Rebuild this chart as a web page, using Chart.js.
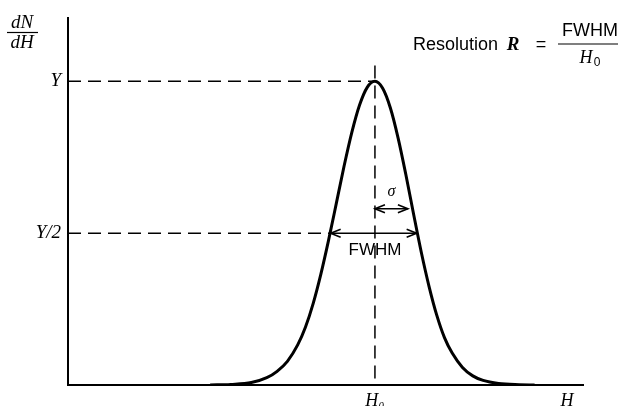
<!DOCTYPE html>
<html>
<head>
<meta charset="utf-8">
<script src="https://cdn.jsdelivr.net/npm/chart.js@4"></script>
<style>
html,body{margin:0;padding:0;background:#fff;}
#wrap{width:618px;height:406px;}
</style>
</head>
<body>
<div id="wrap"><canvas id="c" width="618" height="406"></canvas></div>
<script>
// ---- data (arbitrary units) ----
const H = [2.76, 3.16, 3.56, 3.86, 4.06, 4.26, 4.46, 4.61, 4.76, 4.91, 5.06, 5.21, 5.36, 5.51, 5.66, 5.81, 5.96,
           6.11, 6.26, 6.41, 6.56, 6.71, 6.86, 7.01, 7.16, 7.31, 7.46, 7.66, 7.86, 8.06, 8.36, 8.76, 9.06];
const dNdH = [0, 0.002, 0.008, 0.024, 0.045, 0.078, 0.132, 0.19, 0.268, 0.365, 0.477, 0.598, 0.72, 0.831, 0.921, 0.98, 1,
              0.977, 0.912, 0.813, 0.693, 0.563, 0.437, 0.325, 0.23, 0.156, 0.105, 0.058, 0.03, 0.015, 0.005, 0.001, 0];
const H0 = 5.96;
const Ypeak = 1;
const Yhalf = 0.5;
const fwhmLeft = 5.1;
const fwhmRight = 6.77;
const sigmaEnd = 6.60;
const sigmaLevel = 0.58;
const markerTop = 1.052;
const xRange = [0, 10];
const yRange = [0, 1.207];
const yTickValues = [1, 0.5];
const yTickLabels = ['Y', 'Y/2'];
const xTickValues = [H0, 9.69];
const xTickLabels = ['H\u2080', 'H'];

const serifItalic = (s) => ({family: '"Liberation Serif", "DejaVu Serif", serif', style: 'italic', size: s});

const dashed = {borderColor: '#000', borderWidth: 1.5, borderDash: [13, 7], pointRadius: 0, fill: false, tension: 0};
const solidThin = {borderColor: '#000', borderWidth: 1.5, pointRadius: 0, fill: false, tension: 0};

function arrowHead(ctx, x, y, dir) {
  ctx.beginPath();
  ctx.moveTo(x - dir * 10, y - 4);
  ctx.lineTo(x, y);
  ctx.lineTo(x - dir * 10, y + 4);
  ctx.stroke();
}

const annotations = {
  id: 'annotations',
  afterDatasetsDraw(chart) {
    const ctx = chart.ctx;
    const xs = chart.scales.x, ys = chart.scales.y;
    ctx.save();
    ctx.strokeStyle = '#000';
    ctx.fillStyle = '#000';
    ctx.lineWidth = 1.6;
    // FWHM arrow heads
    const yh = ys.getPixelForValue(Yhalf);
    arrowHead(ctx, xs.getPixelForValue(fwhmLeft), yh, -1);
    arrowHead(ctx, xs.getPixelForValue(fwhmRight), yh, 1);
    // sigma arrow heads
    const ysg = ys.getPixelForValue(sigmaLevel);
    arrowHead(ctx, xs.getPixelForValue(H0), ysg, -1);
    arrowHead(ctx, xs.getPixelForValue(sigmaEnd), ysg, 1);
    // labels
    ctx.textAlign = 'center';
    ctx.textBaseline = 'middle';
    ctx.font = 'italic 16px "Liberation Serif", serif';
    ctx.fillText('\u03c3', (xs.getPixelForValue(H0) + xs.getPixelForValue(sigmaEnd)) / 2, ysg - 17);
    ctx.font = '17px "Liberation Sans", Arial, sans-serif';
    ctx.fillText('FWHM', xs.getPixelForValue(H0), yh + 17);

    // dN/dH axis title
    ctx.font = 'italic 19px "Liberation Serif", serif';
    ctx.textBaseline = 'alphabetic';
    ctx.fillText('dN', 22, 28);
    ctx.fillText('dH', 22, 48);
    ctx.lineWidth = 1.2;
    ctx.beginPath(); ctx.moveTo(7, 32.5); ctx.lineTo(38, 32.5); ctx.stroke();

    // Resolution formula
    ctx.textAlign = 'left';
    ctx.font = '18px "Liberation Sans", Arial, sans-serif';
    ctx.fillText('Resolution', 413, 50);
    ctx.font = 'italic bold 19px "Liberation Serif", serif';
    ctx.textAlign = 'center';
    ctx.fillText('R', 513, 50);
    ctx.font = '18px "Liberation Sans", Arial, sans-serif';
    ctx.fillText('=', 541, 50);
    ctx.fillText('FWHM', 590, 36);
    ctx.beginPath(); ctx.moveTo(558, 44); ctx.lineTo(618, 44); ctx.stroke();
    ctx.font = 'italic 18px "Liberation Serif", serif';
    ctx.fillText('H', 586, 63);
    ctx.font = '12px "Liberation Sans", Arial, sans-serif';
    ctx.fillText('0', 597, 66);
    ctx.restore();
  }
};

new Chart(document.getElementById('c'), {
  type: 'line',
  data: {
    datasets: [
      {data: H.map((x, i) => ({x: x, y: dNdH[i]})), borderColor: '#000', borderWidth: 3, pointRadius: 0, fill: false, cubicInterpolationMode: 'monotone'},
      Object.assign({data: [{x: xRange[0], y: Ypeak}, {x: H0, y: Ypeak}]}, dashed),
      Object.assign({data: [{x: xRange[0], y: Yhalf}, {x: fwhmLeft, y: Yhalf}]}, dashed),
      Object.assign({data: [{x: H0, y: markerTop}, {x: H0, y: 0}]}, dashed),
      Object.assign({data: [{x: fwhmLeft, y: Yhalf}, {x: fwhmRight, y: Yhalf}]}, solidThin),
      Object.assign({data: [{x: H0, y: sigmaLevel}, {x: sigmaEnd, y: sigmaLevel}]}, solidThin)
    ]
  },
  options: {
    responsive: false,
    animation: false,
    devicePixelRatio: 1,
    layout: {padding: {left: 0, right: 35, top: 17, bottom: 0}},
    plugins: {legend: {display: false}, tooltip: {enabled: false}},
    scales: {
      x: {
        type: 'linear', min: xRange[0], max: xRange[1],
        grid: {display: false, drawTicks: false},
        border: {display: true, color: '#000', width: 2},
        afterBuildTicks: (s) => { s.ticks = xTickValues.map(v => ({value: v})); },
        afterFit: (s) => { s.height = 21; },
        ticks: {
          autoSkip: false, maxRotation: 0, padding: 5, color: '#000', font: serifItalic(18),
          callback: (v) => xTickLabels[xTickValues.indexOf(v)]
        }
      },
      y: {
        type: 'linear', min: yRange[0], max: yRange[1],
        grid: {display: false, drawTicks: false},
        border: {display: true, color: '#000', width: 2},
        afterBuildTicks: (s) => { s.ticks = yTickValues.map(v => ({value: v})); },
        afterFit: (s) => { s.width = 68; },
        ticks: {
          autoSkip: false, padding: 7, color: '#000', font: serifItalic(19),
          callback: (v) => yTickLabels[yTickValues.indexOf(v)]
        }
      }
    }
  },
  plugins: [annotations]
});
</script>
</body>
</html>
